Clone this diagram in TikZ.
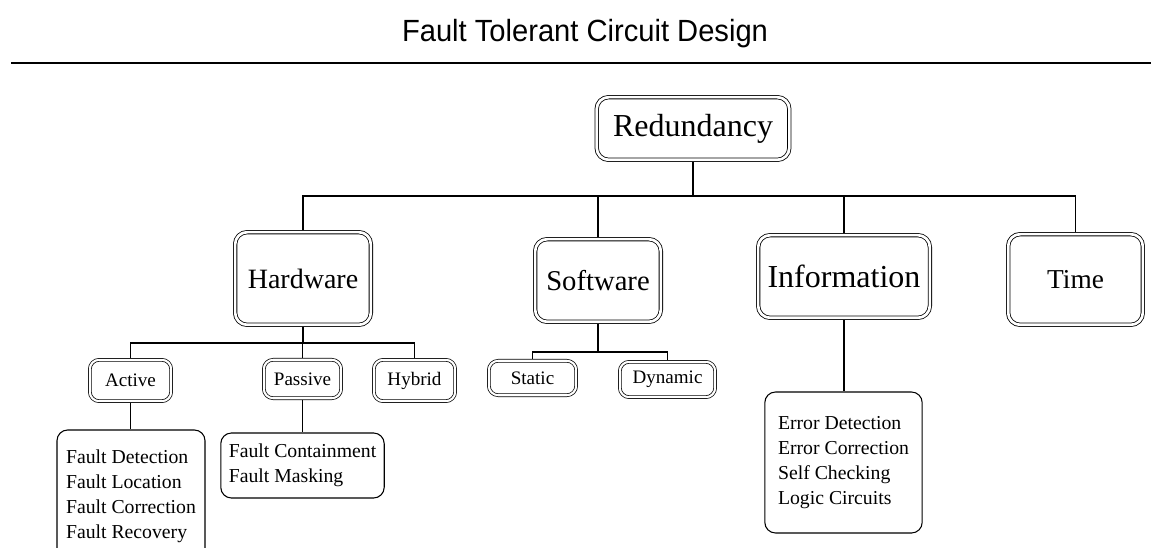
\documentclass[tikz,border=0pt]{standalone}
\usepackage{fontspec}
\setmainfont{Liberation Serif}
\newfontfamily\titlefont{Liberation Sans}
\usetikzlibrary{positioning,backgrounds}

\begin{document}
\begin{tikzpicture}[x=0.75pt,y=-0.75pt,
	dbox/.style={draw,double,double distance=2pt,line width=0.6pt,rounded corners=9pt,inner sep=0pt},
	sbox/.style={draw,double,double distance=1.6pt,line width=0.55pt,rounded corners=7pt,inner sep=0pt,font=\fontsize{14.3}{17}\selectfont},
	lbox/.style={draw,line width=0.8pt,rounded corners=8pt,align=left,inner xsep=6pt,font=\fontsize{14.8}{18.75}\selectfont},
	link/.style={line width=0.8pt}]
	\clip (0,0) rectangle (1151,548);
	\def\ya{196}
	\def\yb{343}
	\def\yc{352}
	% title and rule
	\node[anchor=base,xscale=0.95,font=\titlefont\fontsize{23}{27}\selectfont] (title) at (585,42) {Fault Tolerant Circuit Design};
	\draw[line width=1.6pt] (11,63) -- (1151,63);
	% main boxes
	\node[dbox,minimum width=144.5pt,minimum height=47pt,font=\fontsize{24}{28}\selectfont] (red) at (693,128.5) {Redundancy};
	\node[dbox,minimum width=101.8pt,minimum height=69.5pt,font=\fontsize{21}{25}\selectfont] (hw) at (303,278.5) {Hardware};
	\node[dbox,minimum width=94.3pt,minimum height=62pt,font=\fontsize{21.5}{25}\selectfont] (sw) at (598,280.5) {Software};
	\node[dbox,minimum width=128.8pt,minimum height=62pt,font=\fontsize{24}{28}\selectfont] (info) at (844,276.5) {Information};
	\node[dbox,minimum width=101pt,minimum height=68pt,font=\fontsize{20.5}{24}\selectfont] (time) at (1075.5,279.5) {Time};
	% second level
	\node[sbox,minimum width=61pt,minimum height=31pt] (act) at (130.5,380.5) {Active};
	\node[sbox,minimum width=58pt,minimum height=28.8pt] (pas) at (302.5,379) {Passive};
	\node[sbox,minimum width=61pt,minimum height=31pt] (hyb) at (414.5,380.5) {Hybrid};
	\node[sbox,minimum width=65.5pt,minimum height=25.8pt] (sta) at (532.5,378) {Static};
	\node[sbox,minimum width=71.5pt,minimum height=26.5pt] (dyn) at (667.5,379.5) {Dynamic};
	% lists
	\node[lbox,minimum width=111pt,minimum height=99pt] (actlist) at (131,496) {Fault Detection\\Fault Location\\Fault Correction\\Fault Recovery};
	\node[lbox,minimum width=120.75pt,minimum height=48.75pt] (paslist) at (302.5,465.5) {Fault Containment\\Fault Masking};
	\node[lbox,minimum width=118pt,minimum height=105.75pt] (infolist) at (843.5,462.5) {Error Detection\\Error Correction\\Self Checking\\Logic Circuits};
	\begin{scope}[on background layer]
		\coordinate (bus) at (0,\ya);
		\coordinate (hbus) at (0,\yb);
		\coordinate (sbus) at (0,\yc);
		\draw[link] (red.south) -- (red.south |- bus);
		\draw[link] (hw.north) -- (hw.north |- bus) -- (time.north |- bus) -- (time.north);
		\foreach \n in {sw,info}
		{
			\draw[link] (\n.north) -- (\n.north |- bus);
		}
		\draw[link] (hw.south) -- (hw.south |- hbus);
		\draw[link] (act.north) -- (act.north |- hbus) -- (hyb.north |- hbus) -- (hyb.north);
		\draw[link] (pas.north) -- (pas.north |- hbus);
		\draw[link] (sw.south) -- (sw.south |- sbus);
		\draw[link] (sta.north) -- (sta.north |- sbus) -- (dyn.north |- sbus) -- (dyn.north);
		\draw[link] (act.south) -- (act.south |- actlist.north);
		\draw[link] (pas.south) -- (pas.south |- paslist.north);
		\draw[link] (info.south) -- (info.south |- infolist.north);
	\end{scope}
\end{tikzpicture}
\end{document}
